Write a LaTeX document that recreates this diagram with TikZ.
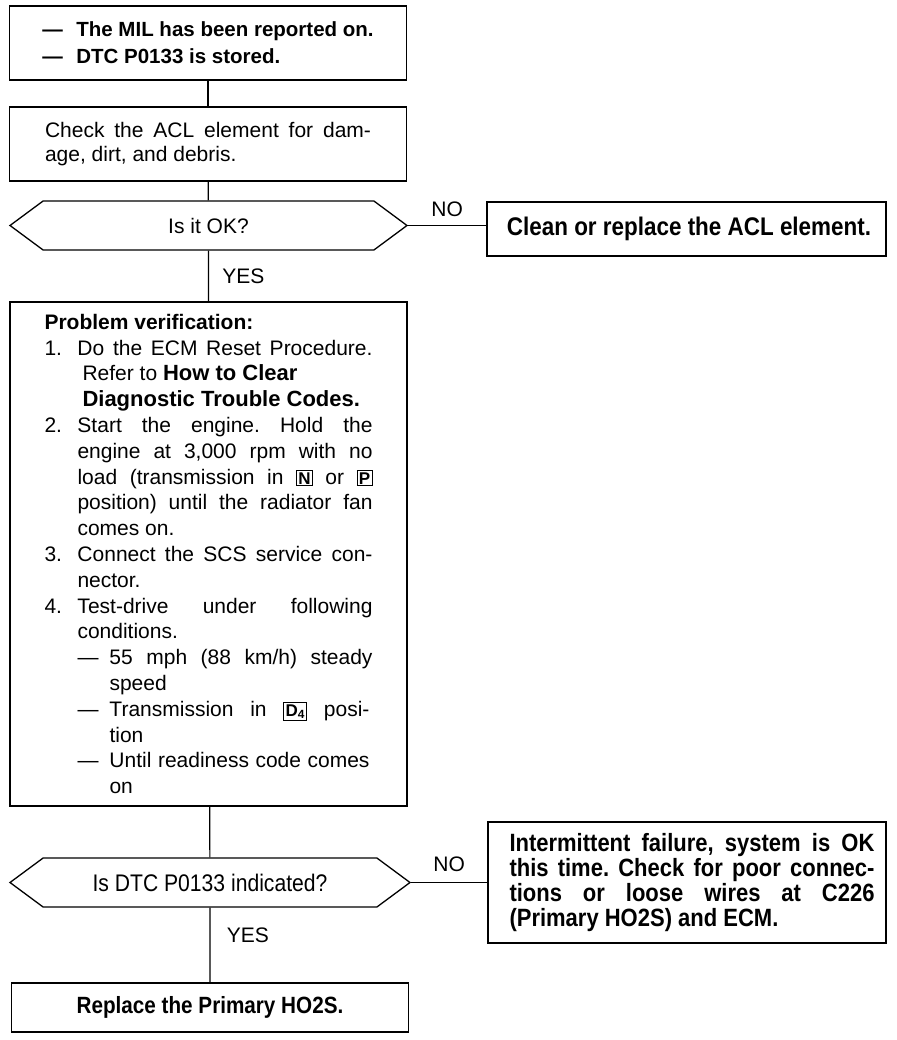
\documentclass[tikz,border=0pt]{standalone}
\usepackage{fontspec}
\setmainfont{Liberation Sans}
\newfontfamily\condfont[FakeStretch=0.88]{Liberation Sans}
\usetikzlibrary{shapes.symbols}

\newcommand{\selbox}[1]{{\setlength{\fboxsep}{1.2pt}\setlength{\fboxrule}{1pt}\fbox{\fontsize{17}{17}\selectfont\bfseries #1}}}
\newcommand{\jline}[2]{\makebox[#1][s]{#2}}
\frenchspacing

\tikzset{
  box/.style={draw, rectangle, line width=1.3pt, minimum width=397pt, inner sep=0pt, align=left},
  query/.style={draw, signal, signal to=west and east, signal pointer angle=73,
    line width=1.3pt, minimum width=397pt, minimum height=49pt, inner sep=0pt},
  link/.style={line width=1.2pt},
}

\begin{document}
\begin{tikzpicture}[x=1pt, y=-1pt, font=\fontsize{21}{25.8}\selectfont]
    \fill[white] (0,0) rectangle (896,1040);
    \useasboundingbox (0,0) rectangle (896,1040);
    \node[box, minimum height=74pt, font=\bfseries\fontsize{20.5}{27}\selectfont] (mil) at (208,43)
      {\makebox[34pt][l]{---}The MIL has been reported on.\\
       \makebox[34pt][l]{---}DTC P0133 is stored.};
    \node[box, minimum height=74pt, font=\fontsize{21}{24.5}\selectfont] (acl) at (208,144)
      {\jline{326pt}{Check the ACL element for dam-}\\
       age, dirt, and debris.};
    \node[query] (ok) at (208.5,225.5) {Is it OK?};
    \node[box, minimum width=399pt, minimum height=54pt, font=\condfont\bfseries\fontsize{25.5}{25.5}\selectfont] (clean) at (686.5,229)
      {\hspace*{5pt}Clean or replace the ACL element.};
    \node[box, minimum height=504pt] (verify) at (208.5,554)
      {\textbf{Problem verification:}\\
       \makebox[33pt][l]{1.}\jline{295pt}{Do the ECM Reset Procedure.}\\
       \hspace*{38pt}Refer to \textbf{\fontsize{22}{25.8}\selectfont How to Clear}\\
       \hspace*{38pt}\textbf{\fontsize{22}{25.8}\selectfont Diagnostic Trouble Codes.}\\
       \makebox[33pt][l]{2.}\jline{295pt}{Start the engine. Hold the}\\
       \hspace*{33pt}\jline{295pt}{engine at 3,000 rpm with no}\\
       \hspace*{33pt}\jline{295pt}{load (transmission in \selbox{N} or \selbox{P}}\\
       \hspace*{33pt}\jline{295pt}{position) until the radiator fan}\\
       \hspace*{33pt}comes on.\\
       \makebox[33pt][l]{3.}\jline{295pt}{Connect the SCS service con-}\\
       \hspace*{33pt}nector.\\
       \makebox[33pt][l]{4.}\jline{295pt}{Test-drive under following}\\
       \hspace*{33pt}conditions.\\
       \hspace*{33pt}\makebox[32pt][l]{---}\jline{263pt}{55 mph (88 km/h) steady}\\
       \hspace*{65pt}speed\\
       \hspace*{33pt}\makebox[32pt][l]{---}\jline{260pt}{Transmission in \selbox{D\textsubscript{4}} posi-}\\
       \hspace*{65pt}tion\\
       \hspace*{33pt}\makebox[32pt][l]{---}\jline{260pt}{Until readiness code comes}\\
       \hspace*{65pt}on};
    \node[query, minimum width=400pt, font=\condfont\fontsize{24}{24}\selectfont] (dtc) at (210,882.5) {Is DTC P0133 indicated?};
    \node[box, minimum width=398pt, minimum height=121pt, font=\condfont\bfseries\fontsize{25}{25.3}\selectfont] (intermit) at (687,882.5)
      {\hspace*{10pt}\jline{365pt}{Intermittent failure, system is OK}\\
       \hspace*{10pt}\jline{365pt}{this time. Check for poor connec-}\\
       \hspace*{10pt}\jline{365pt}{tions or loose wires at C226}\\
       \hspace*{10pt}(Primary HO2S) and ECM.};
    \node[box, minimum height=49pt, font=\condfont\bfseries\fontsize{23.5}{23.5}\selectfont] (replace) at (210,1007.5)
      {Replace the Primary HO2S.};
    \draw[link] (mil) -- (acl);
    \draw[link] (acl) -- (ok);
    \draw[link] (ok.east) -- node[above=5pt] {NO} (ok.east -| clean.west);
    \draw[link] (ok) -- node[right=10pt] {YES} (verify);
    \draw[link] (verify) -- (dtc);
    \draw[link] (dtc.east) -- node[above=7pt] {NO} (intermit.west);
    \draw[link] (dtc) -- node[right=13pt, pos=0.37] {YES} (replace);
  \end{tikzpicture}
\end{document}
